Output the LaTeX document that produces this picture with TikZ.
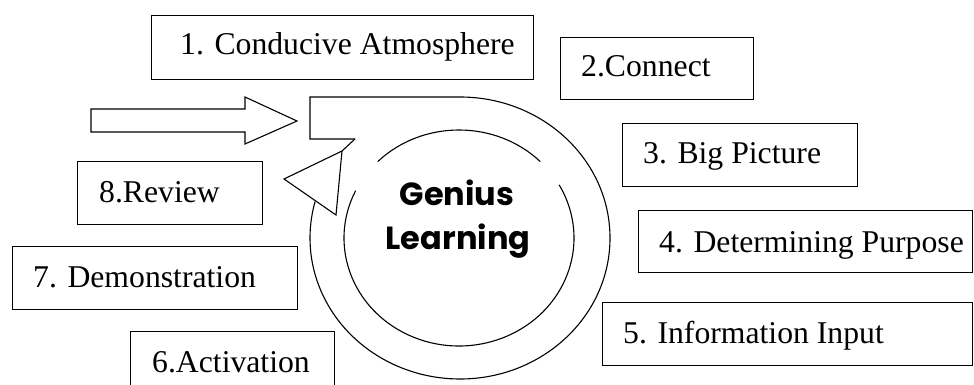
\documentclass[tikz,border=0pt]{standalone}
\usepackage{fontspec}
\setmainfont{Liberation Serif}
\newfontfamily\geniusfont{Poppins}
\begin{document}
\begin{tikzpicture}[x=1pt,y=-1pt,
  box/.style={draw=black, line width=1.2pt, fill=white, inner sep=0pt, anchor=north west},
  lbl/.style={inner sep=0pt, anchor=base west, font=\fontsize{31.7}{38}\selectfont},
  outl/.style={draw=black, line width=1.1pt, line join=miter},
  glabel/.style={inner sep=0pt, anchor=base, font=\geniusfont\bfseries\fontsize{32}{40}\selectfont}]
\useasboundingbox (0,0) rectangle (974,385);
\clip (0,0) rectangle (974,385);
\fill[white] (0,0) rectangle (974,385);

% boxes
\node[box, minimum width=382pt, minimum height=64pt] (b1) at (151,15) {};
\node[box, minimum width=193pt, minimum height=62pt] (b2) at (560,37) {};
\node[box, minimum width=235pt, minimum height=63pt] (b3) at (622,123) {};
\node[box, minimum width=334pt, minimum height=62pt] (b4) at (638,210) {};
\node[box, minimum width=370pt, minimum height=63pt] (b5) at (602,302) {};
\node[box, minimum width=204pt, minimum height=70pt] (b6) at (130,331) {};
\node[box, minimum width=285pt, minimum height=63pt] (b7) at (12,246) {};
\node[box, minimum width=185pt, minimum height=63pt] (b8) at (77,161) {};

\node[lbl] (t1) at (180,55) {1. Conducive Atmosphere};
\node[lbl] (t2) at (581,77) {2.Connect};
\node[lbl] (t3) at (643,163) {3. Big Picture};
\node[lbl] (t4) at (659,252) {4. Determining Purpose};
\node[lbl] (t5) at (623,343) {5. Information Input};
\node[lbl] (t6) at (152,372) {6.Activation};
\node[lbl] (t7) at (33,287) {7. Demonstration};
\node[lbl] (t8) at (99,202) {8.Review};

% block arrow
\draw[outl] (91,109) -- (245,109) -- (245,97) -- (297,121) -- (245,144) -- (245,132) -- (91,132) -- cycle;

% circular arrow
\coordinate (oc) at (460,238);
\coordinate (ic) at (459,238);
\draw[outl] (355,139) -- (310,139) -- (310,97) -- (460,97)
  arc[start angle=90, end angle=-195, x radius=150pt, y radius=141pt];
\draw[outl] (355,139) -- (342,151);
\draw[outl] (342,151) -- (284,179) -- (336,215) -- cycle;

% inner circle (with gaps)
\draw[outl] ([shift={(45:115pt and 108pt)}]ic) arc[start angle=45, end angle=135, x radius=115pt, y radius=108pt];
\draw[outl] ([shift={(154:115pt and 108pt)}]ic) arc[start angle=154, end angle=389.5, x radius=115pt, y radius=108pt];

\node[glabel] (g1) at (457,205) {Genius};
\node[glabel] (g2) at (458,249) {Learning};
\end{tikzpicture}
\end{document}
